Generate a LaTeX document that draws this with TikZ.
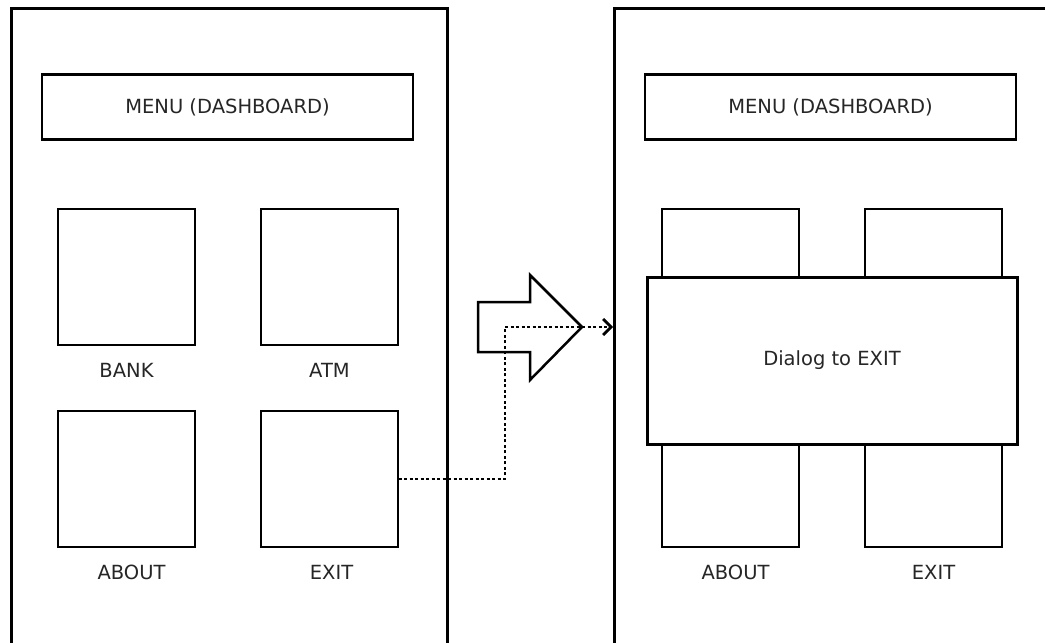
\documentclass[tikz,border=0pt]{standalone}
\usepackage{fontspec}
\setmainfont{DejaVu Sans}
\usetikzlibrary{arrows.meta,positioning}

\tikzset{
  screen/.style={draw, line width=3pt, inner sep=0pt},
  menubar/.style={draw, line width=2.5pt, minimum width=371pt, minimum height=65pt, inner sep=0pt},
  tile/.style={draw, line width=1.3pt, minimum width=137pt, minimum height=136pt, inner sep=0pt},
  dialogbox/.style={draw, fill=white, line width=3pt, minimum width=370pt, minimum height=167pt, inner sep=0pt},
  caption/.style={inner sep=0pt, anchor=center},
  flow/.style={line width=2.8pt, dash pattern=on 3pt off 2.5pt, -{Straight Barb[length=8pt,width=16pt]}}
}

\begin{document}
\begin{tikzpicture}[x=1pt, y=-1pt, font=\fontsize{19.5}{23}\selectfont, text=black!85]
\clip (0,0) rectangle (1045,643);
\fill[white] (0,0) rectangle (1045,643);

% left screen: the dashboard
\node[screen, minimum width=436pt, minimum height=693pt, anchor=north west] (leftscreen) at (10,7) {};
\node[menubar] (menuL) at (227.5,107) {MENU (DASHBOARD)};
\node[tile] (bank) at (126.5,277) {};
\node[tile] (atm) at (329.5,277) {};
\node[tile] (about) at (126.5,479) {};
\node[tile] (exitL) at (329.5,479) {};
\node[caption, below=25pt of bank.south, anchor=center] (bankcap) {BANK};
\node[caption, below=25pt of atm.south, anchor=center] (atmcap) {ATM};
\node[caption, below=25pt of about.south, anchor=center, xshift=5pt] (aboutcap) {ABOUT};
\node[caption, below=25pt of exitL.south, anchor=center, xshift=2pt] (exitcap) {EXIT};

% right screen: exit dialog on top
\node[screen, minimum width=500pt, minimum height=693pt, anchor=north west] (rightscreen) at (613,7) {};
\node[menubar] (menuR) at (830.5,107) {MENU (DASHBOARD)};
\node[tile] (bankR) at (730.5,277) {};
\node[tile] (atmR) at (933.5,277) {};
\node[tile] (aboutR) at (730.5,479) {};
\node[tile] (exitR) at (933.5,479) {};
\node[caption, below=25pt of aboutR.south, anchor=center, xshift=5pt] (aboutRcap) {ABOUT};
\node[caption, below=25pt of exitR.south, anchor=center] (exitRcap) {EXIT};
\node[dialogbox] (dialog) at (832,360.5) {Dialog to EXIT};

% big arrow between the screens
\draw[line width=2.5pt, line join=miter, fill=white]
  (478,302) -- (530,302) -- (530,275) -- (582,327) -- (530,380) -- (530,352) -- (478,352) -- cycle;

% click on EXIT opens the dialog
\coordinate (jump) at (505,327);
\coordinate (hit) at (rightscreen.west |- jump);
\draw[flow] (exitL.east) -| (jump) -- (hit);
\end{tikzpicture}
\end{document}
